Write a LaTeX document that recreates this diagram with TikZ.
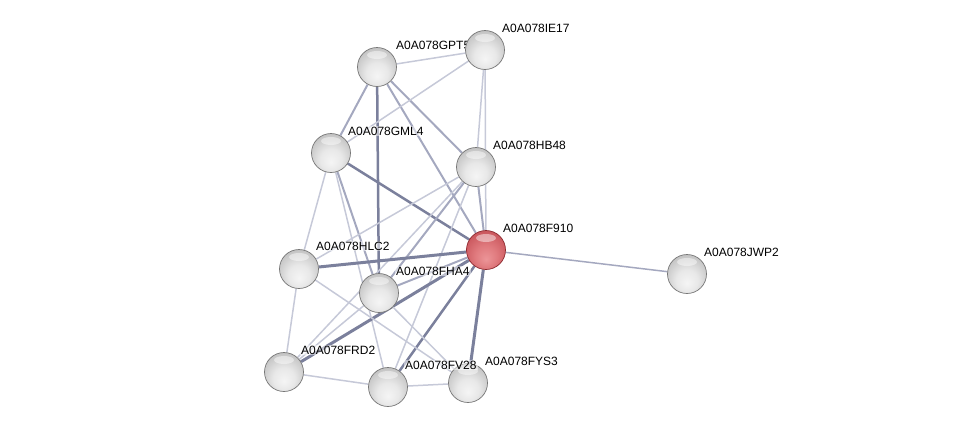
\documentclass[tikz,border=0pt]{standalone}
\usepackage{fontspec}
\setmainfont{Liberation Sans}
\usetikzlibrary{backgrounds}
\definecolor{edgelt}{HTML}{C6C9D8}
\definecolor{edgemd}{HTML}{A4A8BF}
\definecolor{edgedk}{HTML}{7B809C}
\definecolor{ballrim}{HTML}{777777}
\definecolor{redrim}{HTML}{8E2A30}
\definecolor{redlo}{HTML}{EC9598}
\definecolor{redmid}{HTML}{E07A7E}
\definecolor{redhi}{HTML}{CC5A60}
\definecolor{redout}{HTML}{B84A50}
\pgfdeclareradialshading{greyball}{\pgfpoint{0bp}{-12bp}}{color(0bp)=(black!4); color(14bp)=(black!9); color(28bp)=(black!22); color(37bp)=(black!32); color(50bp)=(black!32)}
\pgfdeclareradialshading{redball}{\pgfpoint{0bp}{-12bp}}{color(0bp)=(redlo); color(14bp)=(redmid); color(28bp)=(redhi); color(37bp)=(redout); color(50bp)=(redout)}

\begin{document}
\begin{tikzpicture}[x=1pt, y=-1pt,
    ball/.style={circle, minimum size=39pt, inner sep=0pt, draw=ballrim, line width=0.7pt, shading=greyball,
        path picture={\fill[white, opacity=0.45] ([yshift=12pt]path picture bounding box.center) ellipse (10 and 4);}},
    redball/.style={ball, draw=redrim, shading=redball},
    lbl/.style={anchor=base west, inner sep=1pt, fill=white, fill opacity=0.5, text opacity=1,
        font=\fontsize{12}{14}\selectfont},
    ew1/.style={edgelt, line width=1.5pt},
    ew2/.style={edgemd, line width=2pt},
    ew3/.style={edgedk, line width=3pt}]
        \useasboundingbox (0,0) rectangle (975,432);
        \node[ball] (gpt5) at (377,67) {};
        \node[lbl] (t-gpt5) at ([shift={(18,-18)}]gpt5.center) {A0A078GPT5};
        \node[ball] (ie17) at (485,50) {};
        \node[lbl] (t-ie17) at ([shift={(16,-18)}]ie17.center) {A0A078IE17};
        \node[ball] (gml4) at (331,153) {};
        \node[lbl] (t-gml4) at ([shift={(16,-18)}]gml4.center) {A0A078GML4};
        \node[ball] (hb48) at (476,167) {};
        \node[lbl] (t-hb48) at ([shift={(16,-18)}]hb48.center) {A0A078HB48};
        \node[redball] (f910) at (486,250) {};
        \node[lbl] (t-f910) at ([shift={(16,-18)}]f910.center) {A0A078F910};
        \node[ball] (jwp2) at (687,274) {};
        \node[lbl] (t-jwp2) at ([shift={(16,-18)}]jwp2.center) {A0A078JWP2};
        \node[ball] (hlc2) at (299,269) {};
        \node[lbl] (t-hlc2) at ([shift={(16,-19)}]hlc2.center) {A0A078HLC2};
        \node[ball] (fha4) at (379,293) {};
        \node[lbl] (t-fha4) at ([shift={(16,-18)}]fha4.center) {A0A078FHA4};
        \node[ball] (frd2) at (284,372) {};
        \node[lbl] (t-frd2) at ([shift={(16,-18)}]frd2.center) {A0A078FRD2};
        \node[ball] (fys3) at (468,383) {};
        \node[lbl] (t-fys3) at ([shift={(16,-18)}]fys3.center) {A0A078FYS3};
        \node[ball] (fv28) at (388,387) {};
        \node[lbl] (t-fv28) at ([shift={(16,-18)}]fv28.center) {A0A078FV28};
        \begin{scope}[on background layer]
        \draw[ew1] (gpt5) -- (ie17);
        \draw[ew2] (gpt5) -- (gml4);
        \draw[ew3, line width=2.5pt] (gpt5) -- (fha4);
        \draw[ew2] (gpt5) -- (hb48);
        \draw[ew2] (gpt5) -- (f910);
        \draw[ew1] (ie17) -- (gml4);
        \draw[ew1] (ie17) -- (hb48);
        \draw[ew1] (ie17) -- (f910);
        \draw[ew1] (gml4) -- (hlc2);
        \draw[ew3, line width=2.5pt] (gml4) -- (f910);
        \draw[ew2] (gml4) -- (fha4);
        \draw[ew1] (gml4) -- (fv28);
        \draw[ew1] (hb48) -- (hlc2);
        \draw[ew2] (hb48) -- (fha4);
        \draw[ew2] (hb48) -- (f910);
        \draw[ew1] (hb48) -- (fv28);
        \draw[ew1] (hb48) -- (frd2);
        \draw[ew3] (f910) -- (hlc2);
        \draw[ew2] (f910) -- (fha4);
        \draw[ew3] (f910) -- (frd2);
        \draw[ew3, line width=2.5pt] (f910) -- (fv28);
        \draw[ew3] (f910) -- (fys3);
        \draw[ew1, edgemd] (f910) -- (jwp2);
        \draw[ew1] (hlc2) -- (frd2);
        \draw[ew1] (hlc2) -- (fys3);
        \draw[ew1] (fha4) -- (frd2);
        \draw[ew1] (fha4) -- (fys3);
        \draw[ew1] (frd2) -- (fv28);
        \draw[ew1] (fv28) -- (fys3);
        \end{scope}
    \end{tikzpicture}
\end{document}
